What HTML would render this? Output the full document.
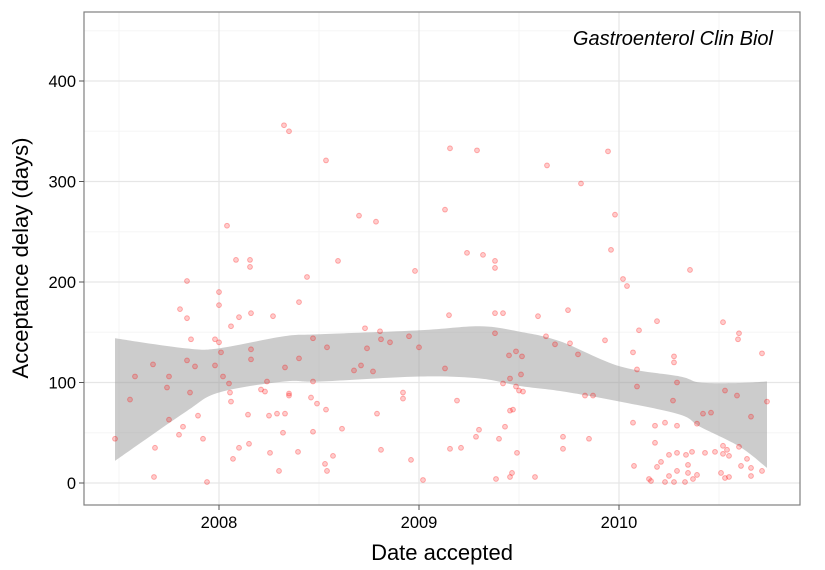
<!DOCTYPE html>
<html><head><meta charset="utf-8"><style>
html,body{margin:0;padding:0;background:#fff;}
svg{display:block;font-family:"Liberation Sans",sans-serif;}
</style></head><body>
<svg id="chart" width="825" height="570"></svg>
<script>
const dates=[2008.325,2008.35,2008.04,2008.085,2008.155,2008.155,2008.44,2007.84,2008.0,2008.0,2008.40,2007.805,2007.84,2008.10,2008.16,2008.27,2008.06,2007.86,2007.98,2008.0,2008.47,2008.01,2008.16,2008.16,2007.84,2007.67,2007.88,2007.98,2008.40,2008.33,2007.58,2007.75,2008.02,2007.74,2007.855,2008.05,2008.055,2008.06,2008.21,2008.23,2008.24,2008.47,2008.35,2008.35,2008.46,2008.49,2007.555,2007.75,2007.895,2008.145,2008.25,2008.29,2008.33,2007.82,2007.80,2008.32,2008.47,2007.48,2007.92,2007.68,2008.10,2008.15,2008.255,2008.395,2008.07,2008.30,2007.675,2007.94,
2008.535,2009.155,2009.29,2009.64,2008.70,2008.785,2009.13,2008.595,2008.98,2009.24,2009.32,2009.38,2009.38,2009.15,2009.38,2009.42,2009.595,2008.73,2008.805,2008.81,2008.855,2008.95,2008.54,2008.74,2009.0,2009.38,2009.635,2009.68,2009.45,2009.485,2009.515,2008.675,2008.71,2008.77,2009.13,2009.455,2009.51,2009.42,2009.485,2009.50,2009.52,2008.92,2008.92,2009.19,2008.535,2008.79,2009.455,2009.47,2008.615,2009.43,2009.30,2009.285,2009.40,2008.81,2009.155,2009.21,2009.49,2008.57,2008.53,2008.54,2008.96,2009.02,2009.385,2009.465,2009.455,2009.58,
2009.945,2009.81,2009.98,2009.96,2010.355,2010.02,2010.04,2009.745,2010.19,2010.52,2010.10,2010.60,2010.595,2009.93,2009.755,2010.715,2010.07,2010.275,2010.275,2009.795,2010.09,2010.09,2010.29,2009.83,2009.87,2010.27,2010.53,2010.59,2010.74,2010.66,2010.42,2010.46,2010.07,2010.18,2010.23,2010.29,2010.39,2009.72,2009.85,2009.72,2010.18,2010.52,2010.60,2010.25,2010.29,2010.335,2010.365,2010.43,2010.48,2010.52,2010.54,2010.55,2010.64,2010.075,2010.21,2010.19,2010.345,2010.61,2010.66,2010.715,2010.25,2010.29,2010.345,2010.39,2010.37,2010.51,2010.53,2010.55,2010.66,2010.15,2010.16,2010.23,2010.275,2010.33];
const delays=[356,350,256,222,222,215,205,201,190,177,180,173,164,165,169,166,156,143,143,140,144,130,133,123,122,118,116,117,124,115,106,106,106,95,90,99,90,81,93,91,101,101,87,89,85,79,83,63,67,68,67,69,69,56,48,50,51,44,44,35,35,39,30,31,24,12,6,1,
321,333,331,316,266,260,272,221,211,229,227,221,214,167,169,169,166,154,151,143,140,146,135,134,135,149,146,138,127,131,126,112,117,111,114,104,108,99,96,92,91,90,84,82,73,69,72,73,54,56,53,46,44,33,34,35,30,27,19,12,23,3,4,10,6,6,
330,298,267,232,212,203,196,172,161,160,152,149,143,142,139,129,130,126,120,128,113,96,100,87,87,82,92,87,81,66,69,70,60,57,60,57,59,46,44,34,40,37,36,28,30,28,31,30,31,29,33,27,24,17,21,16,18,17,15,12,7,12,10,8,4,10,5,6,7,4,2,1,1,1];
const bandX=[2007.48,2007.835,2008.0,2008.325,2008.505,2009.005,2009.305,2009.505,2009.705,2010.005,2010.305,2010.405,2010.605,2010.74];
const bandUpper=[144,134,134,146,148,152,156,150.5,141,116,106,100,99.5,101];
const bandLower=[22,71,90,101,101,106,104,96.5,91.5,81,68,56,36,15];
const yTicks=[0,100,200,300,400];
const xTicks=[2008,2009,2010];
const yMinor=[50,150,250,350,450];
const xMinor=[2007.5,2008.5,2009.5,2010.5];

const NS="http://www.w3.org/2000/svg";
const svg=document.getElementById('chart');
const L=84,R=800,T=12,B=505;
const xs=v=>219+(v-2008)*200;
const ys=v=>483-v*1.005;
function mk(tag,attrs,parent){const e=document.createElementNS(NS,tag);for(const k in attrs)e.setAttribute(k,attrs[k]);(parent||svg).appendChild(e);return e;}

const grid=mk('g',{});


yMinor.forEach(v=>{if(ys(v)>T){const l=mk('line',{x1:L,x2:R,y1:ys(v),y2:ys(v),stroke:'#f5f5f5','stroke-width':1},grid);}});
xMinor.forEach(v=>{const l=mk('line',{x1:xs(v),x2:xs(v),y1:T,y2:B,stroke:'#f5f5f5','stroke-width':1},grid);});
yTicks.forEach(v=>{const l=mk('line',{x1:L,x2:R,y1:ys(v),y2:ys(v),stroke:'#e6e6e6','stroke-width':1.2},grid);});
xTicks.forEach(v=>{const l=mk('line',{x1:xs(v),x2:xs(v),y1:T,y2:B,stroke:'#e6e6e6','stroke-width':1.2},grid);});

// smooth curve through points (Catmull-Rom -> bezier)
function smoothPath(px,start){
  let s=start?'M'+px[0][0]+','+px[0][1]:'L'+px[0][0]+','+px[0][1];
  for(let i=0;i<px.length-1;i++){
    const p0=px[Math.max(0,i-1)],p1=px[i],p2=px[i+1],p3=px[Math.min(px.length-1,i+2)];
    const c1=[p1[0]+(p2[0]-p0[0])/6,p1[1]+(p2[1]-p0[1])/6];
    const c2=[p2[0]-(p3[0]-p1[0])/6,p2[1]-(p3[1]-p1[1])/6];
    s+='C'+c1+' '+c2+' '+p2;
  }
  return s;
}
const up=bandX.map((x,i)=>[xs(x),ys(bandUpper[i])]);
const lo=bandX.map((x,i)=>[xs(x),ys(bandLower[i])]).reverse();
const band=mk('path',{d:smoothPath(up,true)+smoothPath(lo,false)+'Z',fill:'#999','fill-opacity':0.5});



const pts=mk('g',{});


dates.forEach((x,i)=>{const c=mk('circle',{cx:xs(x),cy:ys(delays[i]),r:2.4,fill:'rgba(255,0,0,0.2)',stroke:'rgba(255,0,0,0.3)','stroke-width':1},pts);

});

const border=mk('rect',{x:L,y:T,width:R-L,height:B-T,fill:'none',stroke:'#808080','stroke-width':1.2});



yTicks.forEach(v=>{const t=mk('line',{x1:L-5,x2:L,y1:ys(v),y2:ys(v),stroke:'#555','stroke-width':1});
const tx=mk('text',{x:L-8,y:ys(v)+6,'text-anchor':'end','font-size':16.5,fill:'#000'});tx.textContent=v;});
xTicks.forEach(v=>{const t=mk('line',{x1:xs(v),x2:xs(v),y1:B,y2:B+5,stroke:'#555','stroke-width':1});
const tx=mk('text',{x:xs(v),y:B+23,'text-anchor':'middle','font-size':16.5,fill:'#000'});tx.textContent=v;});

const xt=mk('text',{x:(L+R)/2,y:560,'text-anchor':'middle','font-size':22,fill:'#000'});xt.textContent='Date accepted';


const yt=mk('text',{x:0,y:0,'text-anchor':'middle','font-size':22,fill:'#000',transform:'translate(28,258) rotate(-90)'});yt.textContent='Acceptance delay (days)';


const jt=mk('text',{x:773,y:45,'text-anchor':'end','font-size':20,'font-style':'italic',fill:'#000'});jt.textContent='Gastroenterol Clin Biol';


</script>
</body></html>
